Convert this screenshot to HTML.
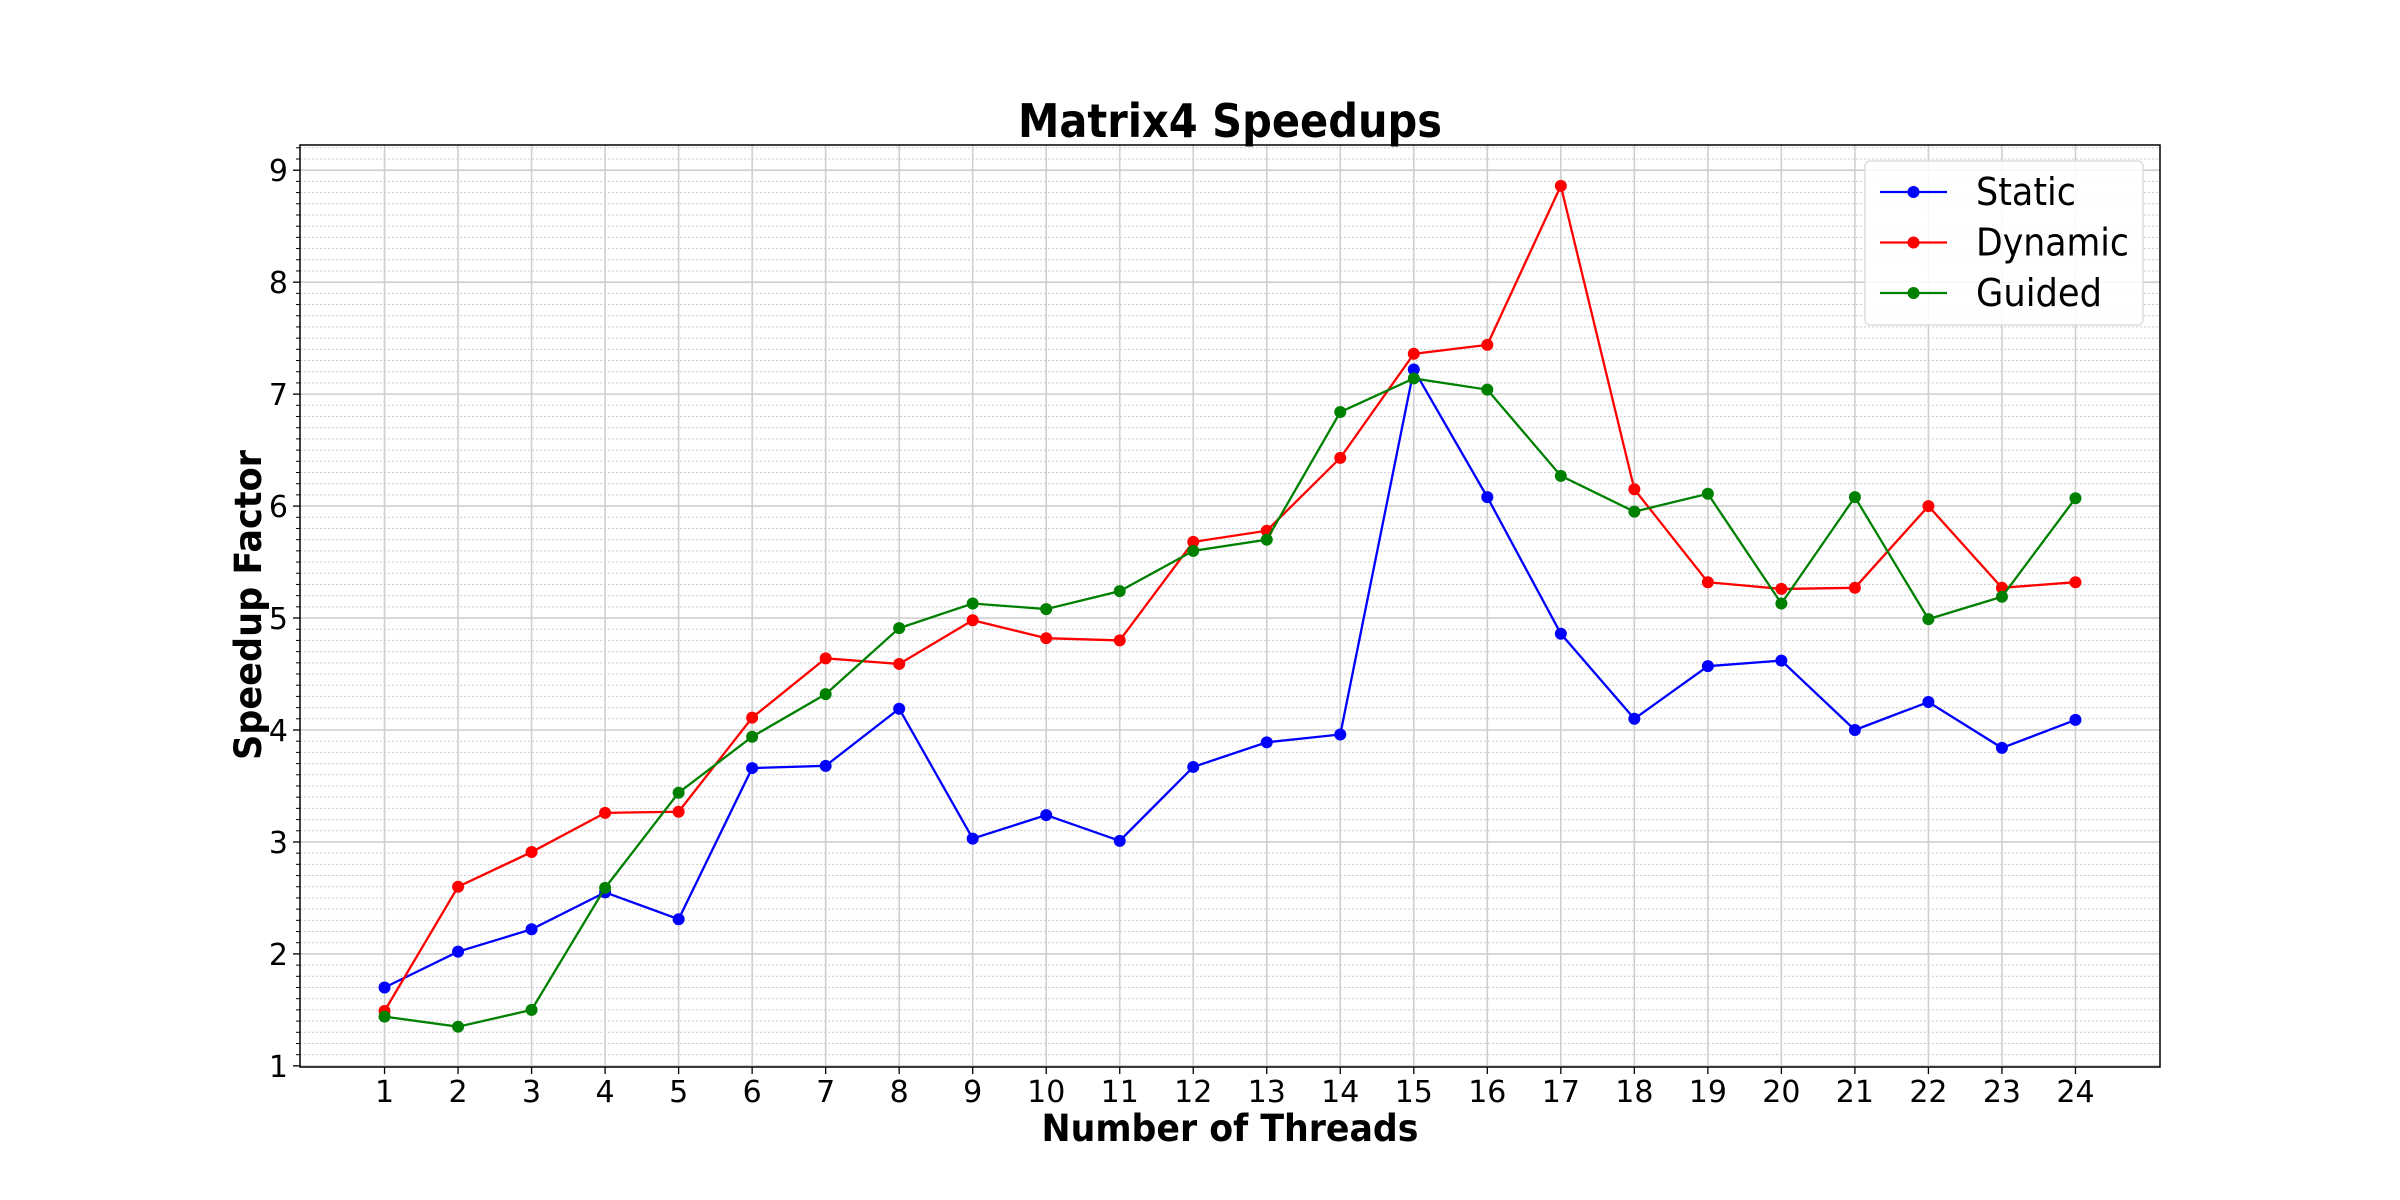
<!DOCTYPE html>
<html><head><meta charset="utf-8"><style>
html,body{margin:0;padding:0;background:#fff;}
svg{display:block;font-family:"DejaVu Sans","Liberation Sans",sans-serif;}
</style></head><body>
<svg id="chart" width="2400" height="1200" viewBox="0 0 2400 1200" xmlns="http://www.w3.org/2000/svg">
<rect width="2400" height="1200" fill="#fff"/>
<g id="grid"></g>
<g id="series"></g>
<g id="axes"></g>
<text x="1230" y="137" text-anchor="middle" font-size="46" font-weight="bold" textLength="424" lengthAdjust="spacingAndGlyphs">Matrix4 Speedups</text>
<text x="1230" y="1141" text-anchor="middle" font-size="37" font-weight="bold" textLength="377" lengthAdjust="spacingAndGlyphs">Number of Threads</text>
<text transform="translate(261,605) rotate(-90)" text-anchor="middle" font-size="37" font-weight="bold" textLength="310" lengthAdjust="spacingAndGlyphs">Speedup Factor</text>
<g id="legend"></g>
</svg>
<script>
const threads = [1,2,3,4,5,6,7,8,9,10,11,12,13,14,15,16,17,18,19,20,21,22,23,24];
const staticVals = [1.70,2.02,2.22,2.55,2.31,3.66,3.68,4.19,3.03,3.24,3.01,3.67,3.89,3.96,7.22,6.08,4.86,4.10,4.57,4.62,4.00,4.25,3.84,4.09];
const dynamicVals = [1.49,2.60,2.91,3.26,3.27,4.11,4.64,4.59,4.98,4.82,4.80,5.68,5.78,6.43,7.36,7.44,8.86,6.15,5.32,5.26,5.27,6.00,5.27,5.32];
const guidedVals = [1.44,1.35,1.50,2.59,3.44,3.94,4.32,4.91,5.13,5.08,5.24,5.60,5.70,6.84,7.14,7.04,6.27,5.95,6.11,5.13,6.08,4.99,5.19,6.07];
const yTicks = [1,2,3,4,5,6,7,8,9];
const seriesNames = ["Static","Dynamic","Guided"];
const seriesColors = ["#0000ff","#ff0000","#008000"];
const legendWidths = [100,153,126];

const NS="http://www.w3.org/2000/svg";
const L=300,R=2160,T=145,B=1067;
const xMin=-0.15,xMax=25.15,yMin=0.99,yMax=9.225;
function xs(v){return L+(v-xMin)/(xMax-xMin)*(R-L);}
function ys(v){return B-(v-yMin)/(yMax-yMin)*(B-T);}
function mk(tag,attrs,parent){const e=document.createElementNS(NS,tag);for(const k in attrs)e.setAttribute(k,attrs[k]);parent.appendChild(e);return e;}
const grid=document.getElementById('grid'),axes=document.getElementById('axes'),ser=document.getElementById('series'),leg=document.getElementById('legend');

for(let i=10;i<=92;i++){const v=i/10;if(i%10===0)continue;if(v<yMin||v>yMax)continue;
 const ln=mk('line',{x1:L,x2:R,y1:ys(v),y2:ys(v),stroke:'#cccccc','stroke-width':1,'stroke-dasharray':'2,2'},grid);
 
 
 const tk=mk('line',{x1:L-4,x2:L,y1:ys(v),y2:ys(v),stroke:'#000','stroke-width':1},axes);
 
 
}
yTicks.forEach(v=>{
 const g=mk('line',{x1:L,x2:R,y1:ys(v),y2:ys(v),stroke:'#cfcfcf','stroke-width':1.6},grid);
 
 
 mk('line',{x1:L-7,x2:L,y1:ys(v),y2:ys(v),stroke:'#000','stroke-width':1.3},axes);
 const t=mk('text',{x:L-12,y:ys(v)+11,'text-anchor':'end','font-size':30},axes);
 t.textContent=v;
 
 
});
threads.forEach(v=>{
 const g=mk('line',{x1:xs(v),x2:xs(v),y1:T,y2:B,stroke:'#cfcfcf','stroke-width':1.6},grid);
 
 
 mk('line',{x1:xs(v),x2:xs(v),y1:B,y2:B+7,stroke:'#000','stroke-width':1.3},axes);
 const t=mk('text',{x:xs(v),y:B+35,'text-anchor':'middle','font-size':30},axes);
 t.textContent=v;
 
 
});
const frame=mk('rect',{x:L,y:T,width:R-L,height:B-T,fill:'none',stroke:'#000','stroke-width':1.5},axes);



[staticVals,dynamicVals,guidedVals].forEach((vals,si)=>{
 const c=seriesColors[si];
 const pts=vals.map((v,i)=>xs(threads[i])+','+ys(v)).join(' ');
 const pl=mk('polyline',{points:pts,fill:'none',stroke:c,'stroke-width':2.3},ser);
 
 
 vals.forEach((v,i)=>{
  const p=mk('circle',{cx:xs(threads[i]),cy:ys(v),r:6,fill:c},ser);
  
  
 });
});

const lb=mk('rect',{x:1865,y:161,width:278,height:164,rx:5,fill:'#fff','fill-opacity':0.85,stroke:'#dddddd','stroke-width':1.5},leg);


seriesNames.forEach((n,i)=>{
 const y=192+i*50.5;
 const g=mk('g',{},leg);
 
 
 mk('line',{x1:1880,x2:1947,y1:y,y2:y,stroke:seriesColors[i],'stroke-width':2.3},g);
 mk('circle',{cx:1913.5,cy:y,r:6,fill:seriesColors[i]},g);
 const t=mk('text',{x:1976,y:y+13,'font-size':38,textLength:legendWidths[i],lengthAdjust:'spacingAndGlyphs'},g);
 t.textContent=n;
});
</script>
</body></html>
